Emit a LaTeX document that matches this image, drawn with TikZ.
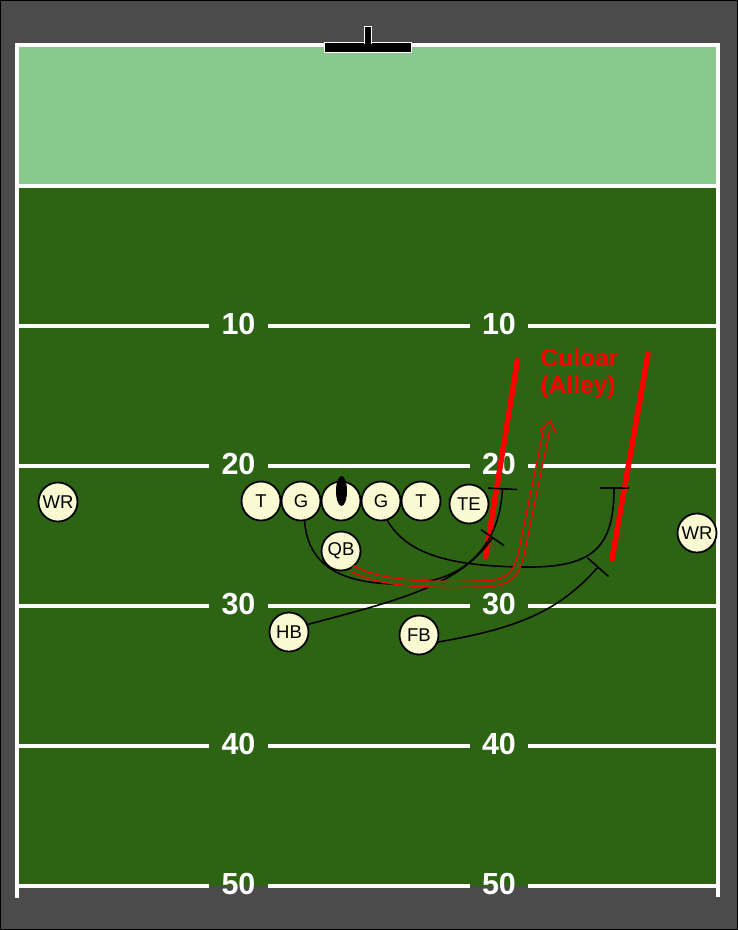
\documentclass[tikz,border=0pt]{standalone}
\usepackage{fontspec}
\setmainfont{Liberation Sans}
\usetikzlibrary{arrows.meta,shapes.geometric}
\definecolor{bggray}{RGB}{75,75,75}
\definecolor{lightfield}{RGB}{137,201,140}
\definecolor{darkfield}{RGB}{45,100,20}
\definecolor{playerfill}{RGB}{250,250,210}
\begin{document}
\begin{tikzpicture}[x=1pt,y=-1pt,
  player/.style={circle, draw=black, line width=1.8pt, fill=playerfill, minimum size=39pt, inner sep=0pt, font=\fontsize{18.5}{20}\selectfont},
  yardline/.style={white, line width=4pt},
  sideline/.style={white, line width=3.5pt},
  yardnum/.style={text=white, font=\bfseries\fontsize{30.5}{32}\selectfont, inner sep=0pt},
  block/.style={black, line width=1.6pt},
  alley/.style={red, line width=5.5pt, line cap=round},
  ballpath/.style={draw=red, line width=1.4pt, double=darkfield, double distance=4.6pt},
  post/.style={fill=black, draw=white, line width=1pt},
  alleytext/.style={anchor=base west, inner sep=0pt, text=red, font=\bfseries\fontsize{24.5}{27}\selectfont},
]
\useasboundingbox (0,0) rectangle (738,930);
\fill[bggray] (0,0) rectangle (738,930);
\draw[black, line width=1pt] (0.5,0.5) rectangle (737.5,929.5);
% field
\fill[lightfield] (17,45) rectangle (718,185.5);
\fill[darkfield] (17,185.5) rectangle (718,885.5);
\draw[sideline] (17,43) -- (17,898);
\draw[sideline] (718,43) -- (718,897);
\draw[yardline] (15.25,45) -- (719.75,45);
\draw[yardline] (17,185.5) -- (718,185.5);
\foreach \y/\n in {325.5/10, 465.5/20, 605.5/30, 745.5/40, 885.5/50} {
  \draw[yardline] (17,\y) -- (209,\y);
  \draw[yardline] (268,\y) -- (470,\y);
  \draw[yardline] (528,\y) -- (718,\y);
  \node[yardnum] (nl\n) at (238.5,\y-1.5) {\n};
  \node[yardnum] (nr\n) at (499,\y-1.5) {\n};
}
% goal post
\filldraw[post] (324.5,42.5) rectangle (411.5,52.5);
\filldraw[post] (364.5,26.5) rectangle (371.5,43);
\fill[black] (365,41) rectangle (371,44);
% alley lines
\coordinate (a1) at (517.5,360);
\coordinate (a2) at (485.5,557);
\coordinate (b1) at (648,354);
\coordinate (b2) at (612,559);
\draw[alley] (a1) -- (a2);
\draw[alley] (b1) -- (b2);
\node[alleytext] (lab1) at (540.5,366) {Culoar};
\node[alleytext] (lab2) at (540.5,393) {(Alley)};
% players
\node[player] (wr1) at (58,502) {WR};
\node[player] (t1) at (261,501) {T};
\node[player] (g1) at (301,501) {G};
\node[player] (c) at (341,501) {};
\node[player] (g2) at (381,501) {G};
\node[player] (t2) at (421,501) {T};
\node[player] (te) at (469,504) {TE};
\node[player] (qb) at (341,551) {QB};
\node[player] (hb) at (289,632) {HB};
\node[player] (fb) at (419,635) {FB};
\node[player] (wr2) at (697,533) {WR};
\node[ellipse, fill=black, minimum width=11pt, minimum height=30pt, inner sep=0pt] (ball) at (341.5,491) {};
% blocking routes
\coordinate (teblock) at (502.5,488);
\coordinate (hbblock) at (493,537);
\coordinate (rtblock) at (614,487);
\coordinate (fbblock) at (598.5,566.5);
\draw[block, -{Bar[width=29pt]}] (g1.-80) .. controls (308,565) and (340,584) .. (400,584) .. controls (470,584) and (500,540) .. (teblock);
\draw[block, -{Bar[width=28pt]}] (hb.22) .. controls (400,600) and (460,585) .. (hbblock);
\draw[block, -{Bar[width=29pt]}] (g2.-72) .. controls (405,550) and (440,567) .. (530,567) .. controls (595,567) and (614,545) .. (rtblock);
\draw[block, -{Bar[width=28pt]}] (fb.-20) .. controls (520,628) and (560,610) .. (fbblock);
% ball carrier path
\coordinate (ballend) at (547,428);
\coordinate (tip) at (550,421);
\coordinate (tipl) at (540,430.5);
\coordinate (tipr) at (556,433);
\draw[ballpath] (qb.-57) .. controls (375,582) and (420,586) .. (480,584) .. controls (510,584) and (517,574) .. (522,550) -- (ballend);
\draw[red, line width=1.4pt, line join=miter] (tipl) -- (tip) -- (tipr);
\end{tikzpicture}
\end{document}
